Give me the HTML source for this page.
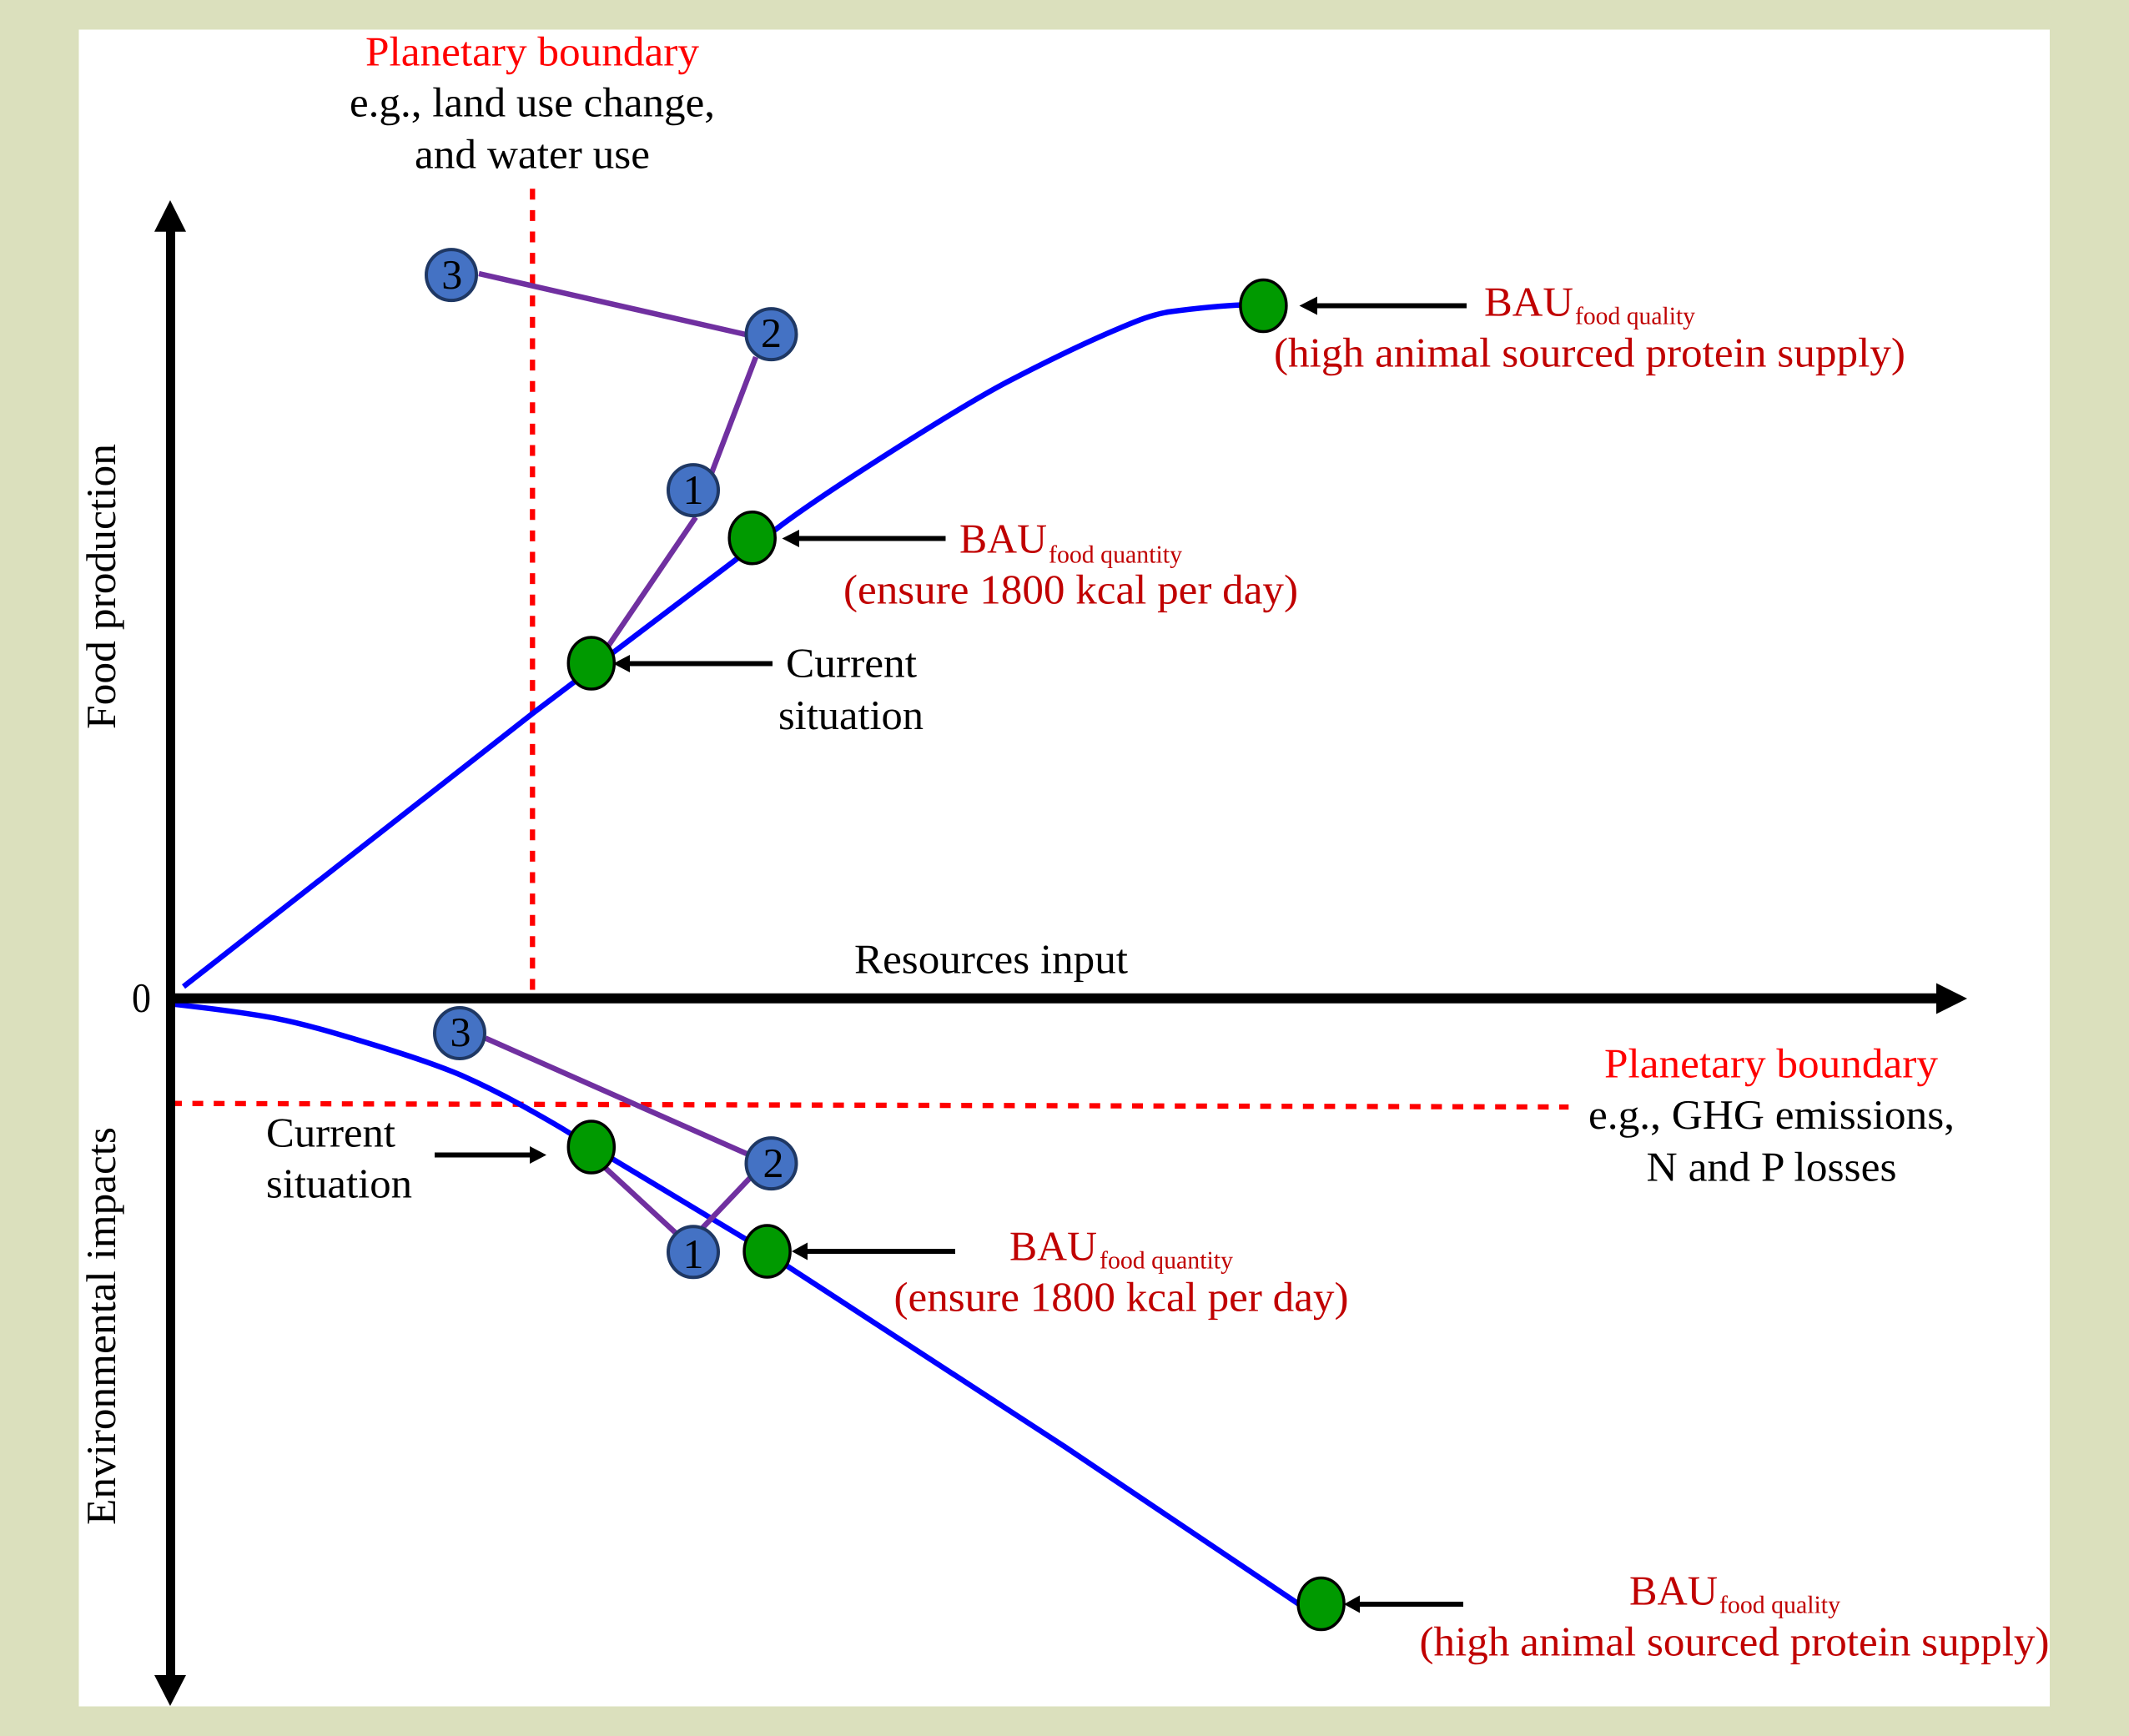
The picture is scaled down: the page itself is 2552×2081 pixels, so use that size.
<!DOCTYPE html>
<html lang="en">
<head>
<meta charset="utf-8">
<title>Food production and environmental impacts</title>
<style>
html,body{margin:0;padding:0;width:2552px;height:2081px;overflow:hidden;background:#dbe0bd}
svg{display:block}
text{font-family:"Liberation Serif","Times New Roman",serif;font-size:50px;fill:#000;text-rendering:geometricPrecision}
.r{fill:#ff0000}
.d{fill:#c00000}
.s{font-size:30px;fill:#c00000}
.c{fill:#4472c4;stroke:#1f3864;stroke-width:4}
.g{fill:#009a00;stroke:#000;stroke-width:3.5}
.p{stroke:#7030a0;stroke-width:6.5;fill:none}
.b{stroke:#0000ff;stroke-width:6.5;fill:none}
.k{stroke:#000;stroke-width:6;fill:none}
.rd{stroke:#ff0000;stroke-width:6.3;fill:none;stroke-dasharray:13 12.6}
</style>
</head>
<body>
<svg xmlns="http://www.w3.org/2000/svg" width="2552" height="2081" viewBox="0 0 2552 2081">
<rect width="2552" height="2081" fill="#dbe0bd"/>
<rect x="94.5" y="35.5" width="2362.5" height="2010" fill="#fff"/>

<!-- boundaries -->
<line class="rd" x1="638.3" y1="226.3" x2="638.3" y2="1187"/>
<line class="rd" x1="205" y1="1322.7" x2="1880.3" y2="1327"/>

<!-- curves -->
<path class="b" d="M220 1182.7 L638 855.6 L932 633 C990 589 1150 488 1207 458 C1250 435.6 1300 411 1343 393 C1362 385 1378 378 1400 374 C1430 370 1460 366.5 1490 365.5"/>
<path class="b" d="M204 1203.3 C250 1208.5 295 1214 330 1220.7 C365 1227.5 400 1238 430 1247 C470 1259 515 1273 553 1289 C580 1301 600 1311 622.6 1323.5 C645 1336 665 1347 684 1359 L895 1486 L1276 1734 L1557 1923"/>

<!-- purple links -->
<line class="p" x1="574" y1="328" x2="894" y2="401"/>
<line class="p" x1="906" y1="428" x2="853" y2="567"/>
<line class="p" x1="834" y1="620" x2="728" y2="776"/>
<line class="p" x1="582" y1="1244.5" x2="895" y2="1383"/>
<line class="p" x1="899" y1="1412" x2="842" y2="1472"/>
<line class="p" x1="810" y1="1478" x2="724" y2="1398.6"/>

<!-- axes -->
<line x1="204.5" y1="270" x2="204.5" y2="2015" stroke="#000" stroke-width="11"/>
<line x1="199" y1="1196.7" x2="2325" y2="1196.7" stroke="#000" stroke-width="12"/>
<polygon points="204,240 223,277.7 185,277.7" fill="#000"/>
<polygon points="204,2045 223,2008 185,2008" fill="#000"/>
<polygon points="2358,1197 2321,1178.5 2321,1215.5" fill="#000"/>

<!-- small arrows -->
<line class="k" x1="1758" y1="366.5" x2="1575" y2="366.5"/><polygon points="1557.5,366.5 1579,355.5 1579,377.5" fill="#000"/>
<line class="k" x1="1133.5" y1="645.5" x2="955" y2="645.5"/><polygon points="937.5,645.5 958,635 958,656" fill="#000"/>
<line class="k" x1="926" y1="795.5" x2="752" y2="795.5"/><polygon points="735,795.5 755,785 755,806" fill="#000"/>
<line class="k" x1="521" y1="1384.5" x2="638" y2="1384.5"/><polygon points="655,1384.5 635,1374 635,1395" fill="#000"/>
<line class="k" x1="1145" y1="1500" x2="965" y2="1500"/><polygon points="949,1500 968,1489.5 968,1510.5" fill="#000"/>
<line class="k" x1="1754" y1="1923" x2="1627" y2="1923"/><polygon points="1611,1923 1630,1912.5 1630,1933.5" fill="#000"/>

<!-- circles -->
<ellipse class="c" cx="541" cy="329.6" rx="30" ry="30.5"/>
<ellipse class="c" cx="924.5" cy="400.6" rx="30" ry="30.5"/>
<ellipse class="c" cx="831" cy="587.6" rx="30" ry="30.5"/>
<ellipse class="c" cx="551" cy="1238.5" rx="30" ry="30.5"/>
<ellipse class="c" cx="924.5" cy="1394.6" rx="30" ry="30.5"/>
<ellipse class="c" cx="831" cy="1500.8" rx="30" ry="30.5"/>
<ellipse class="g" cx="708.8" cy="795" rx="27.5" ry="31"/>
<ellipse class="g" cx="901.7" cy="644.7" rx="27.5" ry="31"/>
<ellipse class="g" cx="1514.4" cy="366.5" rx="27.5" ry="31"/>
<ellipse class="g" cx="708.8" cy="1375" rx="27.5" ry="31"/>
<ellipse class="g" cx="919.6" cy="1500" rx="27.5" ry="31"/>
<ellipse class="g" cx="1583.6" cy="1922.5" rx="27.5" ry="31"/>

<!-- circle numbers -->
<text x="541.7" y="346" text-anchor="middle">3</text>
<text x="924.5" y="416" text-anchor="middle">2</text>
<text x="831" y="604" text-anchor="middle">1</text>
<text x="552" y="1254" text-anchor="middle">3</text>
<text x="927" y="1411" text-anchor="middle">2</text>
<text x="831" y="1520" text-anchor="middle">1</text>

<!-- labels -->
<text transform="translate(138 874) rotate(-90)" textLength="342" lengthAdjust="spacingAndGlyphs">Food production</text>
<text transform="translate(138 1828) rotate(-90)" textLength="477" lengthAdjust="spacingAndGlyphs">Environmental impacts</text>

<g transform="translate(0 0.6)">
<text class="r" x="438" y="78" textLength="400" lengthAdjust="spacingAndGlyphs">Planetary boundary</text>
<text x="419" y="139" textLength="438" lengthAdjust="spacingAndGlyphs">e.g., land use change,</text>
<text x="497" y="201" textLength="282" lengthAdjust="spacingAndGlyphs">and water use</text>

<text x="942" y="811" textLength="157" lengthAdjust="spacingAndGlyphs">Current</text>
<text x="933" y="873.5" textLength="174" lengthAdjust="spacingAndGlyphs">situation</text>

<text class="d" x="1150" y="662" textLength="105" lengthAdjust="spacingAndGlyphs">BAU</text>
<text class="s" x="1257" y="674" textLength="160" lengthAdjust="spacingAndGlyphs">food quantity</text>
<text class="d" x="1011" y="723" textLength="545" lengthAdjust="spacingAndGlyphs">(ensure 1800 kcal per day)</text>

<text class="d" x="1779" y="378" textLength="107" lengthAdjust="spacingAndGlyphs">BAU</text>
<text class="s" x="1888" y="388" textLength="144" lengthAdjust="spacingAndGlyphs">food quality</text>
<text class="d" x="1527" y="439" textLength="757" lengthAdjust="spacingAndGlyphs">(high animal sourced protein supply)</text>

<text x="1024" y="1166" textLength="328" lengthAdjust="spacingAndGlyphs">Resources input</text>
<text x="158" y="1212.5" textLength="23" lengthAdjust="spacingAndGlyphs">0</text>

<text class="r" x="1923" y="1291" textLength="400" lengthAdjust="spacingAndGlyphs">Planetary boundary</text>
<text x="1904" y="1352.5" textLength="439" lengthAdjust="spacingAndGlyphs">e.g., GHG emissions,</text>
<text x="1973.5" y="1415" textLength="300" lengthAdjust="spacingAndGlyphs">N and P losses</text>

<text x="319" y="1374" textLength="155" lengthAdjust="spacingAndGlyphs">Current</text>
<text x="319" y="1435" textLength="175" lengthAdjust="spacingAndGlyphs">situation</text>

<text class="d" x="1210" y="1510" textLength="105" lengthAdjust="spacingAndGlyphs">BAU</text>
<text class="s" x="1318" y="1520" textLength="160" lengthAdjust="spacingAndGlyphs">food quantity</text>
<text class="d" x="1071.5" y="1571" textLength="545" lengthAdjust="spacingAndGlyphs">(ensure 1800 kcal per day)</text>

<text class="d" x="1953" y="1923" textLength="106" lengthAdjust="spacingAndGlyphs">BAU</text>
<text class="s" x="2061" y="1933" textLength="145" lengthAdjust="spacingAndGlyphs">food quality</text>
<text class="d" x="1701.5" y="1984" textLength="755" lengthAdjust="spacingAndGlyphs">(high animal sourced protein supply)</text>
</g>
</svg>
</body>
</html>
